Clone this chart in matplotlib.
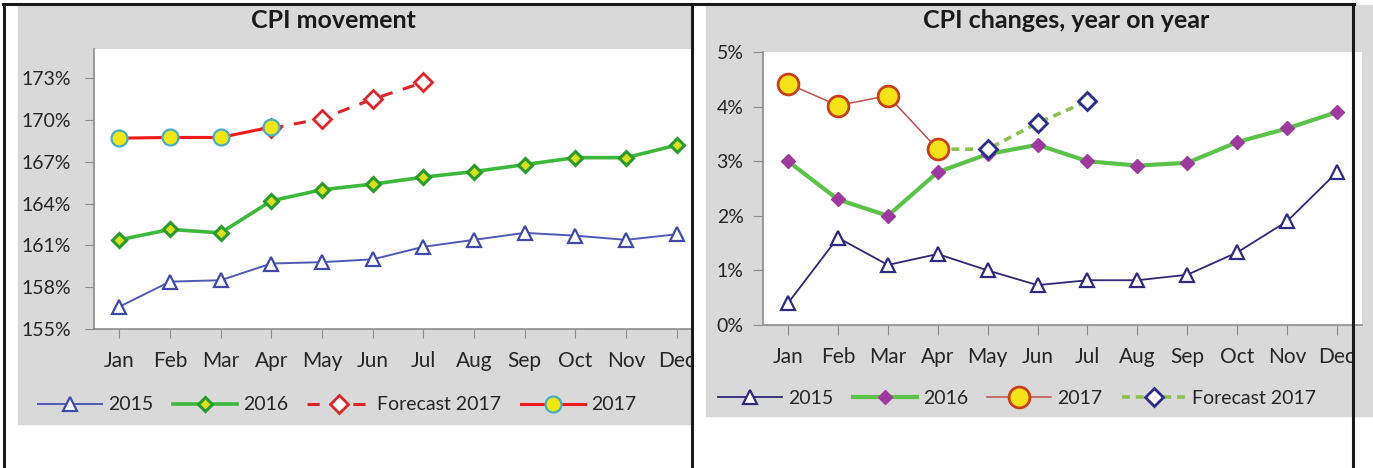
import matplotlib
matplotlib.use("Agg")
import matplotlib.pyplot as plt
from matplotlib.patches import Rectangle
from matplotlib.lines import Line2D
import numpy as np

plt.rcParams['font.family'] = ['Lato', 'DejaVu Sans']

months = ['Jan', 'Feb', 'Mar', 'Apr', 'May', 'Jun', 'Jul', 'Aug', 'Sep', 'Oct', 'Nov', 'Dec']

# CPI movement (index, %)
cpi_2015 = [156.6, 158.4, 158.5, 159.7, 159.8, 160.0, 160.9, 161.4, 161.9, 161.7, 161.4, 161.8]
cpi_2016 = [161.4, 162.15, 161.9, 164.2, 165.0, 165.4, 165.9, 166.3, 166.8, 167.3, 167.3, 168.2]
cpi_2017 = [168.7, 168.75, 168.75, 169.5]
cpi_fc_months = ['Apr', 'May', 'Jun', 'Jul']
cpi_fc_2017 = [169.4, 170.1, 171.5, 172.7]

# CPI changes year on year (%)
yoy_2015 = [0.4, 1.6, 1.1, 1.3, 1.0, 0.73, 0.82, 0.82, 0.92, 1.33, 1.9, 2.8]
yoy_2016 = [3.0, 2.3, 2.0, 2.8, 3.13, 3.3, 3.0, 2.92, 2.97, 3.35, 3.6, 3.9]
yoy_2017 = [4.42, 4.02, 4.2, 3.22]
yoy_fc_months = ['Apr', 'May', 'Jun', 'Jul']
yoy_fc_2017 = [3.22, 3.22, 3.7, 4.1]

W, H = 1373, 468
fig = plt.figure(figsize=(W / 100, H / 100), dpi=100)
fig.patch.set_facecolor('white')

def fx(px):
    return px / W

def fy(py):
    return 1 - py / H

gray = '#d9d9d9'
txt = '#262626'
axc = '#8c8c8c'

# panel backgrounds
fig.patches.append(Rectangle((fx(18), fy(424)), fx(692 - 18), (424 - 6) / H,
                             transform=fig.transFigure, color=gray, zorder=-5))
fig.patches.append(Rectangle((fx(692), 0), fx(W - 692), 1,
                             transform=fig.transFigure, color='white', zorder=1))
fig.patches.append(Rectangle((fx(706), fy(416)), fx(W - 706), (416 - 5) / H,
                             transform=fig.transFigure, color=gray, zorder=1.5))

x = np.arange(len(months))
xi = {m: i for i, m in enumerate(months)}


def style_axes(ax, tlen, ypad, xpad):
    ax.set_facecolor('white')
    ax.set_xlim(-0.5, 11.5)
    ax.set_xticks(x)
    ax.set_xticklabels(months)
    for s in ['top', 'right']:
        ax.spines[s].set_visible(False)
    for s in ['left', 'bottom']:
        ax.spines[s].set_color(axc)
        ax.spines[s].set_linewidth(1.2)
    ax.tick_params(axis='y', length=tlen, color=axc, labelsize=14, labelcolor=txt, pad=ypad)
    ax.tick_params(axis='x', length=tlen, color=axc, labelsize=15, labelcolor=txt, pad=xpad)


# ---- left: CPI movement ----
ax1 = fig.add_axes([fx(94), fy(329), fx(608), (329 - 49) / H])
ax1.set_zorder(0)
style_axes(ax1, 6.5, 10, 9)
ax1.set_ylim(155, 175.1)
ax1.set_yticks(np.arange(155, 174, 3))
ax1.set_yticklabels([f'{v}%' for v in range(155, 174, 3)])

l15, = ax1.plot(x, cpi_2015, color='#4e5bb5', lw=1.4, marker='^', ms=10,
                mfc='white', mec='#3f4aa8', mew=1.6, label='2015')
l16, = ax1.plot(x, cpi_2016, color='#3db83d', lw=2.6, marker='D', ms=7,
                mfc='#d8e020', mec='#2a9a2a', mew=2.2, label='2016')
fx_idx = [xi[m] for m in cpi_fc_months]
lfc, = ax1.plot(fx_idx, cpi_fc_2017, color='#d8262c', lw=2.2, dashes=(4, 3.5),
                marker='D', ms=9.5, mfc='white', mec='#d8262c', mew=2,
                label='Forecast 2017')
l17, = ax1.plot(x[:len(cpi_2017)], cpi_2017, color='#f01818', lw=2.2, marker='o',
                ms=11.5, mfc='#f0e614', mec='#4bacc6', mew=1.6, label='2017')

fig.text(fx(333), fy(21), 'CPI movement', ha='center', va='center',
         fontsize=18, fontweight='bold', color='#1a1a1a')
fig.legend(handles=[l15, l16, lfc, l17], labels=['2015', '2016', 'Forecast 2017', '2017'],
           loc='center left', bbox_to_anchor=(fx(38), fy(405)), ncol=4, frameon=False,
           fontsize=14, handlelength=3.3, handletextpad=0.3, columnspacing=1.0,
           borderpad=0, borderaxespad=0, labelcolor=txt)

# ---- right: CPI changes, year on year ----
ax2 = fig.add_axes([fx(763), fy(325), fx(599), (325 - 52) / H])
ax2.set_zorder(2)
style_axes(ax2, 7, 7, 9)
ax2.set_ylim(0, 5)
ax2.set_yticks(range(0, 6))
ax2.set_yticklabels([f'{v}%' for v in range(0, 6)])

r15, = ax2.plot(x, yoy_2015, color='#2f2775', lw=1.3, marker='^', ms=10,
                mfc='white', mec='#2e2a80', mew=1.6, label='2015')
r16, = ax2.plot(x, yoy_2016, color='#5cc24a', lw=3, marker='D', ms=7,
                mfc='#9e3a9e', mec='#9e3a9e', mew=1, label='2016')
r17, = ax2.plot(x[:len(yoy_2017)], yoy_2017, color='#c0504d', lw=1.1, marker='o',
                ms=15, mfc='#f5e31a', mec='#c8401a', mew=2, label='2017')
ry_idx = [xi[m] for m in yoy_fc_months]
rfc, = ax2.plot(ry_idx, yoy_fc_2017, color='#8cc152', lw=2.6, dashes=(2.2, 1.6),
                marker='D', ms=9.5, mfc='white', mec='#2b2b8c', mew=2,
                label='Forecast 2017')
r17.set_zorder(3)

fig.text(fx(1066), fy(21), 'CPI changes, year on year', ha='center', va='center',
         fontsize=18, fontweight='bold', color='#1a1a1a', zorder=3)
leg2 = fig.legend(handles=[r15, r16, r17, rfc], labels=['2015', '2016', '2017', 'Forecast 2017'],
                  loc='center left', bbox_to_anchor=(fx(718), fy(398)), ncol=4, frameon=False,
                  fontsize=14, handlelength=3.3, handletextpad=0.3, columnspacing=1.0,
                  borderpad=0, borderaxespad=0, labelcolor=txt)
leg2.set_zorder(3)

# table frame lines
frame = dict(color='#1a1a1a', lw=2.2, transform=fig.transFigure, zorder=6)
fig.lines.append(Line2D([fx(3), fx(1354)], [fy(4), fy(4)], **frame))
for px in (4, 692, 1353):
    fig.lines.append(Line2D([fx(px), fx(px)], [fy(4), 0], **frame))

fig.savefig('out.png', dpi=100, facecolor='white')
